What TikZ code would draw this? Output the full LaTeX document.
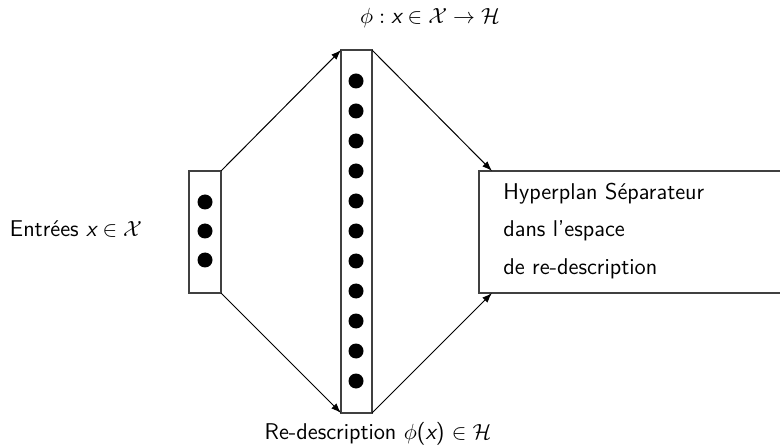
\documentclass[tikz,border=0pt]{standalone}
\usepackage{amsmath}
\usetikzlibrary{arrows.meta}
\newcommand{\sfx}{\text{\sffamily\itshape x}}
\begin{document}
\begin{tikzpicture}[x=0.5pt,y=-0.5pt,
  box/.style={draw=black!75,line width=0.7pt,inner sep=0pt,outer sep=0pt,rectangle},
  dot/.style={circle,fill=black,inner sep=0pt,minimum size=7.5pt},
  arr/.style={-{Latex[length=5pt,width=3.6pt]},line width=0.5pt},
  lbl/.style={font=\sffamily\fontsize{11.4}{13.7}\selectfont,inner sep=0pt}]
\useasboundingbox (0,0) rectangle (780,448);
\clip (0,0) rectangle (780,448);
% boxes
\node[box,minimum width=16pt,minimum height=61pt] (in) at (205,232) {};
\node[box,minimum width=15.5pt,minimum height=181.5pt] (mid) at (356.5,231.5) {};
\node[box,minimum width=170pt,minimum height=61pt,anchor=north west] (hyp) at (479,171) {};
% dots
\foreach \i/\y in {1/202,2/231,3/260}{\node[dot] (a\i) at (205,\y) {};}
\foreach \i in {0,...,10}{\node[dot] (b\i) at (356,81+30*\i) {};}
% arrows
\draw[arr] (in.north east) -- (mid.north west);
\draw[arr] (in.south east) -- (mid.south west);
\draw[arr] (mid.north east) -- ([xshift=6.5pt]hyp.north west);
\draw[arr] (mid.south east) -- ([xshift=6.5pt]hyp.south west);
% labels
\node[lbl] (top) at (430,18) {$\phi : \sfx \in \mathcal{X} \rightarrow \mathcal{H}$};
\node[lbl] (bot) at (378,434) {Re-description $\phi$(\sfx) $\in \mathcal{H}$};
\node[lbl] (ent) at (76,229) {Entrées $\sfx \in \mathcal{X}$};
\node[lbl,align=left,anchor=west] (txt) at (503,231) {Hyperplan Séparateur\\[5pt]dans l'espace\\[5pt]de re-description};
\end{tikzpicture}
\end{document}
